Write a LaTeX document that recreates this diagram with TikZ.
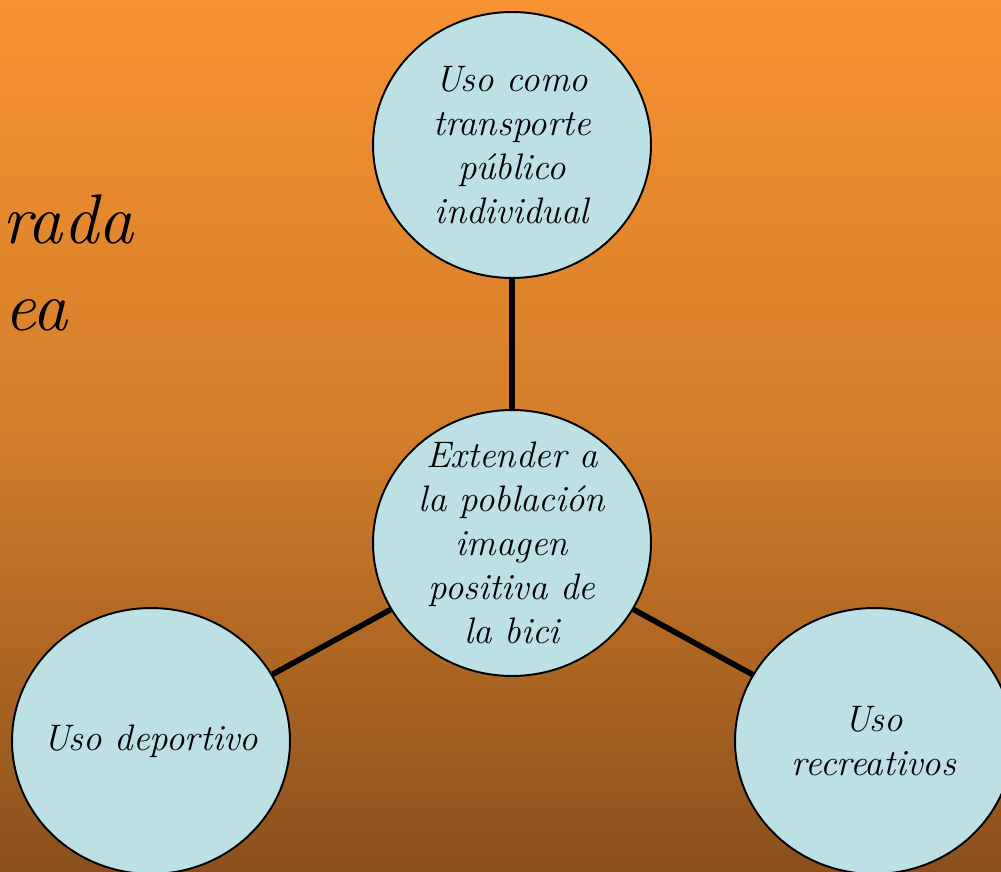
\documentclass[tikz,border=0pt]{standalone}
\usetikzlibrary{shapes.geometric}
\definecolor{sunTop}{RGB}{247,146,50}
\definecolor{sunMid}{RGB}{210,125,42}
\definecolor{sunLow}{RGB}{138,80,28}
\definecolor{bubbleFill}{RGB}{188,224,227}
\begin{document}
\begin{tikzpicture}[x=0.02cm, y=-0.02cm,
		font=\fontsize{21}{25}\selectfont\itshape,
		bubble/.style={ellipse, draw=black, line width=1.1pt, fill=bubbleFill,
			minimum width=5.56cm, minimum height=5.32cm, inner sep=-22pt, align=center},
		link/.style={line width=3.2pt}]
		\useasboundingbox (0,0) rectangle (1001,872);
		\shade[top color=sunTop, bottom color=sunLow, middle color=sunMid] (0,0) rectangle (1001,872);
		% titulo cortado a la izquierda
		\node[anchor=base west, inner sep=0pt, font=\fontsize{40}{48}\selectfont\itshape] (tituloA) at (2,243) {rada};
		\node[anchor=base west, inner sep=0pt, font=\fontsize{40}{48}\selectfont\itshape] (tituloB) at (4,330) {ea};
		% burbujas
		\node[bubble] (centro) at (512,543) {Extender a\\la población\\imagen\\positiva de\\la bici};
		\node[bubble] (arriba) at (512,145) {Uso como\\transporte\\público\\individual};
		\node[bubble] (izq) at (151,741) {Uso deportivo};
		\node[bubble] (der) at (874,741) {Uso\\recreativos};
		\draw[link] (centro)--(arriba);
		\draw[link] (centro)--(izq);
		\draw[link] (centro)--(der);
\end{tikzpicture}
\end{document}
